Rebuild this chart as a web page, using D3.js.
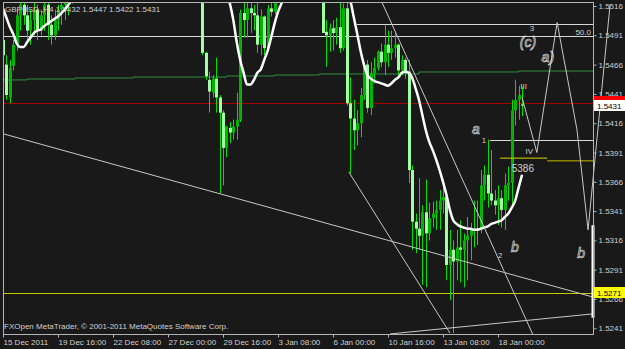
<!DOCTYPE html>
<html>
<head>
<meta charset="utf-8">
<script src="https://cdn.jsdelivr.net/npm/d3@7"></script>
<style>
  body { margin: 0; background: #191919; }
  svg { display: block; }
  text { font-family: "Liberation Sans", Arial, sans-serif; }
</style>
</head>
<body>
<div id="chart"></div>
<script>
// GBPUSD H4, 15 Dec 2011 - 18 Jan 2012 (o, h, l, c)
const bars = [
  [1.5487,1.5491,1.5470,1.5474],[1.5466,1.5474,1.5436,1.5440],[1.5438,1.5470,1.5433,1.5463],[1.5465,1.5487,1.5461,1.5483],
  [1.5483,1.5513,1.5478,1.5508],[1.5508,1.5525,1.5495,1.5517],[1.5517,1.5521,1.5500,1.5508],[1.5508,1.5517,1.5487,1.5495],
  [1.5495,1.5513,1.5483,1.5504],[1.5504,1.5521,1.5491,1.5513],[1.5513,1.5517,1.5487,1.5495],[1.5495,1.5513,1.5491,1.5508],
  [1.5508,1.5521,1.5495,1.5517],[1.5517,1.5519,1.5487,1.5500],[1.5500,1.5508,1.5483,1.5491],[1.5491,1.5513,1.5487,1.5504],
  [1.5504,1.5517,1.5495,1.5513],[1.5513,1.5525,1.5500,1.5517],[1.5517,1.5530,1.5504,1.5525],[1.5525,1.5538,1.5508,1.5534],
  [1.5525,1.5541,1.5518,1.5536],[1.5536,1.5552,1.5530,1.5548],[1.5548,1.5561,1.5539,1.5544],[1.5544,1.5570,1.5540,1.5566],
  [1.5566,1.5582,1.5556,1.5575],[1.5575,1.5590,1.5562,1.5571],[1.5571,1.5588,1.5560,1.5584],[1.5584,1.5602,1.5577,1.5596],
  [1.5596,1.5611,1.5583,1.5590],[1.5590,1.5605,1.5578,1.5599],[1.5599,1.5622,1.5592,1.5615],[1.5615,1.5634,1.5606,1.5628],
  [1.5628,1.5640,1.5610,1.5619],[1.5619,1.5633,1.5602,1.5611],[1.5611,1.5626,1.5598,1.5620],[1.5620,1.5648,1.5615,1.5641],
  [1.5641,1.5662,1.5633,1.5655],[1.5655,1.5670,1.5640,1.5647],[1.5647,1.5659,1.5630,1.5636],[1.5636,1.5652,1.5625,1.5648],
  [1.5648,1.5671,1.5642,1.5664],[1.5664,1.5681,1.5652,1.5673],[1.5673,1.5690,1.5661,1.5668],[1.5668,1.5679,1.5648,1.5655],
  [1.5655,1.5667,1.5640,1.5661],[1.5661,1.5684,1.5656,1.5677],[1.5677,1.5692,1.5665,1.5671],[1.5671,1.5683,1.5658,1.5663],
  [1.5663,1.5675,1.5646,1.5652],[1.5652,1.5668,1.5641,1.5660],[1.5660,1.5672,1.5638,1.5645],[1.5645,1.5656,1.5626,1.5632],
  [1.5632,1.5647,1.5618,1.5640],[1.5640,1.5651,1.5612,1.5620],[1.5620,1.5633,1.5595,1.5601],[1.5601,1.5614,1.5581,1.5590],
  [1.5590,1.5602,1.5568,1.5577],[1.5577,1.5589,1.5555,1.5562],[1.5562,1.5570,1.5474,1.5476],[1.5476,1.5477,1.5453,1.5456],
  [1.5453,1.5460,1.5425,1.5443],[1.5442,1.5457,1.5438,1.5454],[1.5454,1.5472,1.5425,1.5438],[1.5438,1.5440,1.5356,1.5425],
  [1.5425,1.5427,1.5363,1.5395],[1.5395,1.5414,1.5387,1.5413],[1.5412,1.5417,1.5399,1.5408],[1.5408,1.5419,1.5402,1.5413],
  [1.5413,1.5442,1.5402,1.5419],[1.5419,1.5513,1.5417,1.5510],[1.5510,1.5521,1.5489,1.5504],[1.5504,1.5521,1.5489,1.5514],
  [1.5514,1.5521,1.5493,1.5510],[1.5510,1.5517,1.5495,1.5508],[1.5508,1.5521,1.5476,1.5483],[1.5483,1.5513,1.5474,1.5507],
  [1.5507,1.5508,1.5474,1.5480],[1.5480,1.5517,1.5478,1.5514],[1.5514,1.5521,1.5507,1.5511],[1.5511,1.5530,1.5509,1.5525],
  [1.5525,1.5542,1.5519,1.5537],[1.5537,1.5556,1.5530,1.5549],[1.5549,1.5570,1.5541,1.5563],[1.5563,1.5584,1.5555,1.5578],
  [1.5578,1.5602,1.5570,1.5594],[1.5594,1.5612,1.5580,1.5588],[1.5588,1.5625,1.5582,1.5617],[1.5617,1.5639,1.5603,1.5611],
  [1.5611,1.5628,1.5590,1.5597],[1.5597,1.5610,1.5575,1.5582],[1.5582,1.5594,1.5560,1.5567],[1.5567,1.5580,1.5545,1.5551],
  [1.5551,1.5563,1.5527,1.5532],[1.5532,1.5536,1.5493,1.5493],[1.5494,1.5504,1.5464,1.5491],[1.5491,1.5501,1.5477,1.5497],
  [1.5497,1.5504,1.5478,1.5493],[1.5493,1.5506,1.5483,1.5498],[1.5498,1.5521,1.5476,1.5480],[1.5480,1.5518,1.5478,1.5514],
  [1.5514,1.5523,1.5431,1.5433],[1.5433,1.5455,1.5373,1.5420],[1.5420,1.5436,1.5393,1.5410],[1.5410,1.5427,1.5397,1.5416],
  [1.5416,1.5446,1.5404,1.5440],[1.5440,1.5468,1.5436,1.5466],[1.5466,1.5470,1.5425,1.5429],[1.5429,1.5468,1.5423,1.5459],
  [1.5459,1.5472,1.5450,1.5463],[1.5463,1.5478,1.5461,1.5477],[1.5477,1.5484,1.5464,1.5468],[1.5468,1.5500,1.5457,1.5483],
  [1.5483,1.5495,1.5464,1.5476],[1.5476,1.5495,1.5470,1.5480],[1.5480,1.5493,1.5472,1.5483],[1.5483,1.5484,1.5457,1.5461],
  [1.5461,1.5474,1.5457,1.5470],[1.5470,1.5472,1.5454,1.5460],[1.5460,1.5470,1.5365,1.5376],[1.5376,1.5380,1.5308,1.5332],
  [1.5332,1.5339,1.5305,1.5326],[1.5326,1.5369,1.5308,1.5320],[1.5320,1.5346,1.5278,1.5340],[1.5340,1.5368,1.5276,1.5322],
  [1.5322,1.5348,1.5316,1.5335],[1.5335,1.5349,1.5327,1.5339],[1.5339,1.5350,1.5325,1.5342],[1.5342,1.5359,1.5325,1.5350],
  [1.5350,1.5368,1.5339,1.5353],[1.5353,1.5356,1.5282,1.5295],[1.5295,1.5325,1.5265,1.5308],[1.5308,1.5316,1.5237,1.5298],
  [1.5298,1.5325,1.5282,1.5310],[1.5310,1.5333,1.5280,1.5308],[1.5308,1.5322,1.5276,1.5316],[1.5316,1.5336,1.5282,1.5320],
  [1.5320,1.5331,1.5299,1.5325],[1.5325,1.5350,1.5310,1.5326],[1.5326,1.5350,1.5312,1.5325],[1.5325,1.5376,1.5322,1.5363],
  [1.5363,1.5380,1.5350,1.5372],[1.5372,1.5402,1.5344,1.5356],[1.5356,1.5393,1.5346,1.5350],[1.5350,1.5359,1.5338,1.5346],
  [1.5346,1.5363,1.5329,1.5352],[1.5352,1.5359,1.5327,1.5342],[1.5342,1.5373,1.5325,1.5363],[1.5363,1.5379,1.5350,1.5365],
  [1.5365,1.5436,1.5344,1.5427],[1.5427,1.5453,1.5414,1.5436],[1.5436,1.5448,1.5419,1.5440],[1.5432,1.5447,1.5422,1.5431]
];

// thick white moving average
const maLine = [
  1.5514,1.5506,1.5498,1.5492,1.5484,1.5481,1.5481,1.5485,1.5489,1.5493,1.5495,1.5496,1.5499,1.5501,1.5503,1.5505,
  1.5507,1.5510,1.5513,1.5517,1.5521,1.5526,1.5532,1.5538,1.5545,1.5551,1.5557,1.5563,1.5569,1.5574,1.5580,1.5586,
  1.5591,1.5596,1.5600,1.5605,1.5610,1.5615,1.5619,1.5623,1.5628,1.5633,1.5637,1.5640,1.5643,1.5647,1.5650,1.5652,
  1.5653,1.5654,1.5654,1.5652,1.5650,1.5646,1.5641,1.5635,1.5628,1.5620,1.5608,1.5596,1.5584,1.5571,1.5559,1.5547,
  1.5537,1.5527,1.5518,1.5504,1.5485,1.5470,1.5459,1.5449,1.5449,1.5453,1.5459,1.5462,1.5470,1.5478,1.5489,1.5501,
  1.5511,1.5518,1.5526,1.5534,1.5542,1.5550,1.5557,1.5563,1.5568,1.5571,1.5573,1.5573,1.5571,1.5567,1.5561,1.5555,
  1.5549,1.5543,1.5537,1.5531,1.5526,1.5521,1.5507,1.5493,1.5478,1.5466,1.5457,1.5454,1.5452,1.5451,1.5450,1.5449,
  1.5448,1.5450,1.5453,1.5455,1.5459,1.5460,1.5459,1.5455,1.5446,1.5436,1.5423,1.5410,1.5400,1.5393,1.5385,1.5376,
  1.5366,1.5355,1.5342,1.5333,1.5330,1.5328,1.5327,1.5326,1.5326,1.5325,1.5325,1.5326,1.5327,1.5328,1.5330,1.5331,
  1.5332,1.5333,1.5336,1.5339,1.5344,1.5350,1.5361,1.5372
];

const priceTicks = [1.5516,1.5491,1.5466,1.5441,1.5416,1.5391,1.5366,1.5341,1.5316,1.5291,1.5266,1.5241];
const timeTicks = [0,16,32,48,64,80,96,112,128,144];
const timeLabels = ["15 Dec 2011","19 Dec 16:00","22 Dec 08:00","27 Dec 00:00","29 Dec 16:00",
                    "3 Jan 08:00","6 Jan 00:00","10 Jan 16:00","13 Jan 08:00","18 Jan 00:00"];

// chart objects: bar index / price anchors
const greenSteps = [[0,1.54529],[7,1.54537],[21,1.54546],[38,1.54554],[65,1.54563],[79,1.54571],[92,1.54580],[121,1.54597],[150,1.54605],[172,1.54605]];
const hLines = [ // [price, from bar, color]
  [1.5490, 0, "#d8d8d8"],
  [1.5501, 103, "#d8d8d8"],
  [1.5433, 0, "#a00000"],
  [1.5402, 141.7, "#d8d8d8"],
  [1.5271, 0, "#c8c800"]
];
const trendLines = [ // [bar1, price1, bar2, price2]
  [0, 1.5407, 171.6, 1.52677],
  [100.6, 1.53744, 130, 1.52370],
  [110.2, 1.55194, 154.2, 1.52353],
  [112.6, 1.52362, 171.6, 1.52533]
];
const zigzag = [[151,1.5438],[155.3,1.5391],[161.2,1.5502],[167,1.5410],[170.2,1.5325],[176.6,1.5517]];
const labels = [ // [bar, price, text]
  [139.3, 1.5399, "1"], [144, 1.5301, "2"], [153.2, 1.5495, "3"],
  [150.5, 1.5445, "III"], [152, 1.5390, "IV"], [148, 1.5374, "5386"]
];
const waveMarks = [ // hand-drawn wave letters: [bar, price, text]
  [137.6, 1.5407, "a"], [148.9, 1.5306, "b"], [152.7, 1.5481, "(c)"],
  [158.5, 1.5468, "a)"], [168.2, 1.5301, "b"]
];

const W = 625, H = 349;
const plot = { left: 3, right: 593, top: 2, bottom: 334 };

const x = d3.scaleLinear().domain([0, 144]).range([3, 498]);
const y = d3.scaleLinear().domain([1.5241, 1.5516]).range([328.3, 6]);

const svg = d3.select("#chart").append("svg")
  .attr("width", W).attr("height", H);

svg.append("rect").attr("width", W).attr("height", H).attr("fill", "#191919");

svg.append("clipPath").attr("id", "clip")
  .append("rect")
  .attr("x", plot.left).attr("y", plot.top)
  .attr("width", plot.right - plot.left).attr("height", plot.bottom - plot.top);

const g = svg.append("g").attr("clip-path", "url(#clip)");

// horizontal objects
g.append("path")
  .datum(greenSteps)
  .attr("d", d3.line().x(d => x(d[0])).y(d => y(d[1])).curve(d3.curveStepAfter))
  .attr("fill", "none").attr("stroke", "#2f8f3f").attr("stroke-width", 1);

g.selectAll(".hl").data(hLines).join("line")
  .attr("x1", d => x(d[1])).attr("x2", plot.right)
  .attr("y1", d => Math.round(y(d[0])) + 0.5).attr("y2", d => Math.round(y(d[0])) + 0.5)
  .attr("stroke", d => d[2]).attr("stroke-width", 1);

// candles
const candle = g.selectAll(".c").data(bars).join("g");
candle.append("line")
  .attr("x1", (d, i) => Math.round(x(i)) + 0.5).attr("x2", (d, i) => Math.round(x(i)) + 0.5)
  .attr("y1", d => y(d[1])).attr("y2", d => y(d[2]))
  .attr("stroke", "#00e000");
candle.append("rect")
  .attr("x", (d, i) => Math.round(x(i)) - 1)
  .attr("width", 3)
  .attr("y", d => y(Math.max(d[0], d[3])))
  .attr("height", d => Math.max(1, Math.abs(y(d[0]) - y(d[3]))))
  .attr("fill", d => d[3] >= d[0] ? "#00b400" : "#a0ffa0");

// moving average
g.append("path")
  .datum(maLine)
  .attr("d", d3.line().x((d, i) => x(i)).y(d => y(d)).curve(d3.curveMonotoneX))
  .attr("fill", "none").attr("stroke", "#ffffff").attr("stroke-width", 2.5);

// yellow step indicator
g.append("line")
  .attr("x1", x(144.6)).attr("x2", x(158.3))
  .attr("y1", y(1.53862)).attr("y2", y(1.53862))
  .attr("stroke", "#d8d800");
g.append("line")
  .attr("x1", x(158.3)).attr("x2", plot.right)
  .attr("y1", y(1.5384)).attr("y2", y(1.5384))
  .attr("stroke", "#8c8400").attr("stroke-width", 1.5);

// trend lines
g.selectAll(".tl").data(trendLines).join("line")
  .attr("x1", d => x(d[0])).attr("y1", d => y(d[1]))
  .attr("x2", d => x(d[2])).attr("y2", d => y(d[3]))
  .attr("stroke", "#c8c8c8").attr("stroke-width", 1);

// projected wave path (runs under the price scale too)
svg.append("path")
  .datum(zigzag)
  .attr("d", d3.line().x(d => x(d[0])).y(d => y(d[1])))
  .attr("fill", "none").attr("stroke", "#c8c8c8").attr("stroke-width", 1);

svg.append("line")
  .attr("x1", 593).attr("x2", 593).attr("y1", y(1.5329)).attr("y2", y(1.5250))
  .attr("stroke", "#ffffff").attr("stroke-width", 3);

// wave labels
svg.selectAll(".wl").data(labels).join("text")
  .attr("x", d => x(d[0])).attr("y", d => y(d[1]))
  .attr("fill", "#d0d0d0")
  .attr("font-size", d => d[2] === "5386" ? 10 : 8)
  .text(d => d[2]);

svg.selectAll(".wm").data(waveMarks).join("text")
  .attr("x", d => x(d[0])).attr("y", d => y(d[1]))
  .attr("text-anchor", "middle")
  .attr("fill", "none").attr("stroke", "#e8e8e8").attr("stroke-width", 0.6)
  .attr("font-family", "DejaVu Serif, serif").attr("font-style", "italic")
  .attr("font-size", 14)
  .text(d => d[2]);

svg.append("text").attr("x", 591).attr("y", 35).attr("text-anchor", "end")
  .attr("fill", "#d0d0d0").attr("font-size", 8).text("50.0");

// frame
svg.append("rect")
  .attr("x", plot.left + 0.5).attr("y", plot.top + 0.5)
  .attr("width", plot.right - plot.left).attr("height", plot.bottom - plot.top)
  .attr("fill", "none").attr("stroke", "#b4b4b4");

// price axis
const yAxis = svg.append("g")
  .attr("transform", `translate(${plot.right + 0.5},0)`)
  .call(d3.axisRight(y).tickValues(priceTicks).tickFormat(d3.format(".4f")).tickSize(3).tickPadding(2));
yAxis.select(".domain").remove();
yAxis.selectAll("line").attr("stroke", "#b4b4b4");
yAxis.selectAll("text").attr("fill", "#d0d0d0").attr("font-size", 8)
  .attr("font-family", "Liberation Sans, Arial, sans-serif");

// current price boxes (red ask box mostly hidden under the bid box)
function priceBox(p, bg, txt) {
  const yy = Math.round(y(p));
  svg.append("rect").attr("x", 594).attr("y", yy - 6).attr("width", 31).attr("height", 11).attr("fill", bg);
  if (txt) svg.append("text").attr("x", 597).attr("y", yy + 3).attr("fill", "#000").attr("font-size", 8).text(txt);
}
priceBox(1.5434, "#ff0000", null);
priceBox(1.5431, "#ffffff", "1.5431");
priceBox(1.5271, "#ffff00", "1.5271");

// time axis
const xAxis = svg.append("g")
  .attr("transform", `translate(0,${plot.bottom + 0.5})`)
  .call(d3.axisBottom(x).tickValues(timeTicks).tickFormat((d, i) => timeLabels[i]).tickSize(3).tickPadding(2));
xAxis.select(".domain").remove();
xAxis.selectAll("line").attr("stroke", "#b4b4b4");
xAxis.selectAll("text").attr("text-anchor", "start").attr("fill", "#d0d0d0").attr("font-size", 8)
  .attr("font-family", "Liberation Sans, Arial, sans-serif");

// header and copyright
svg.append("text").attr("x", 5).attr("y", 12).attr("fill", "#d0d0d0").attr("font-size", 8)
  .text("GBPUSD.,H4 1.5432 1.5447 1.5422 1.5431");
svg.append("text").attr("x", 4).attr("y", 329).attr("fill", "#d0d0d0").attr("font-size", 8)
  .text("FXOpen MetaTrader, © 2001-2011 MetaQuotes Software Corp.");
</script>
</body>
</html>
